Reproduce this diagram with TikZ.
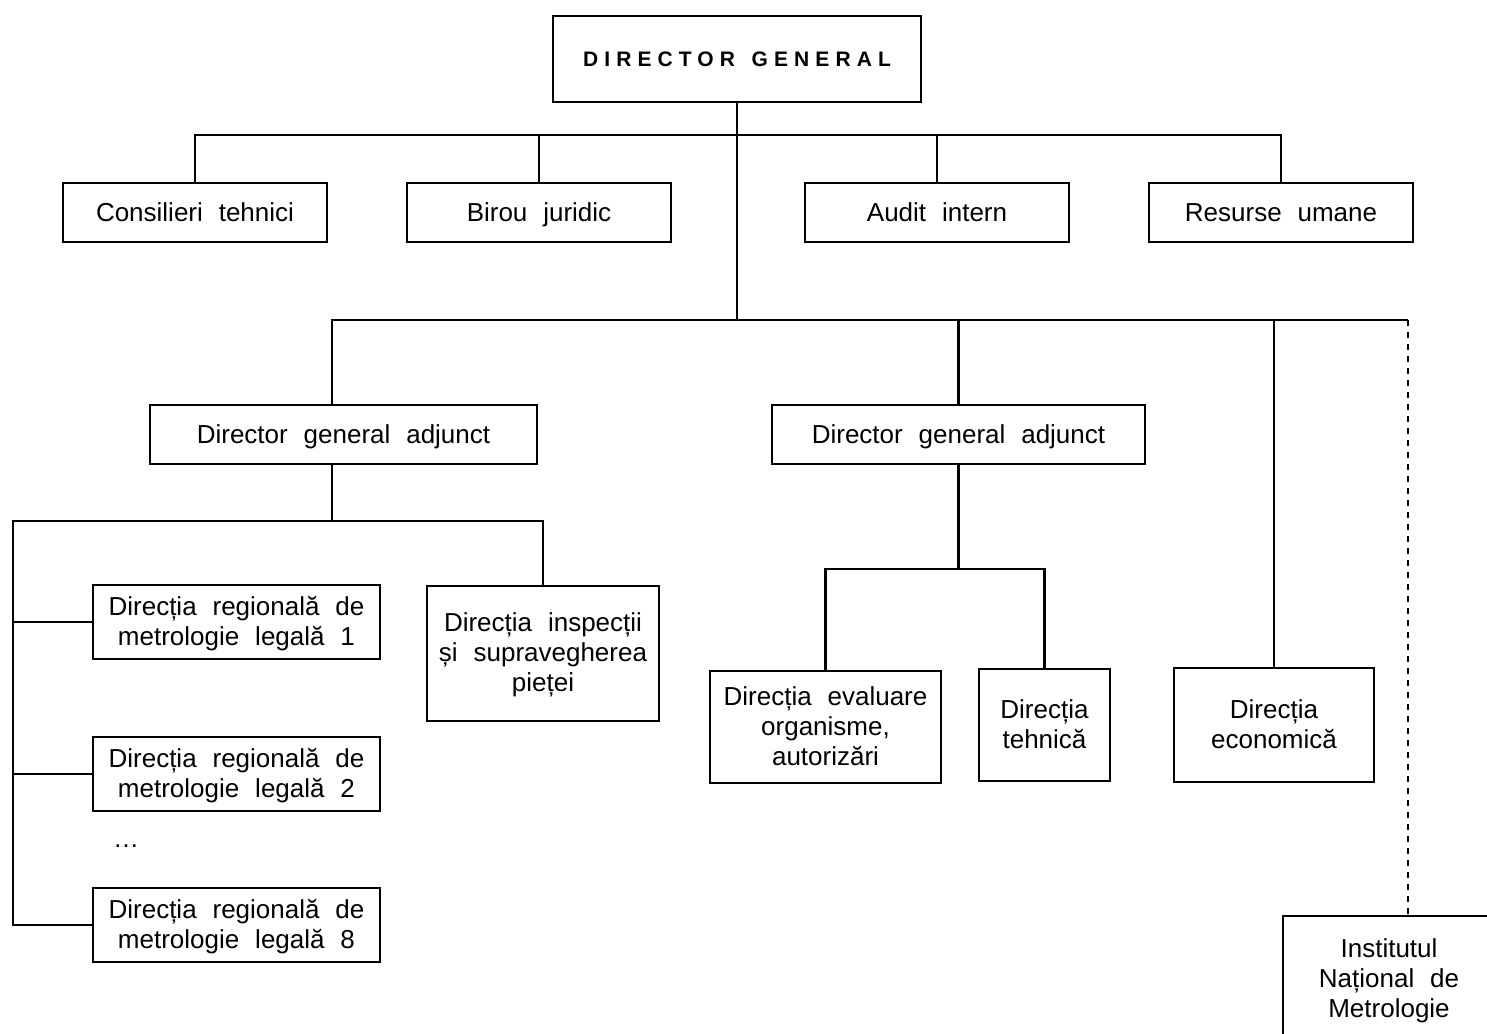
\documentclass[tikz,border=0pt]{standalone}
\usepackage{fontspec}
\setmainfont{Liberation Sans}[WordSpace=2.2]
\newfontfamily\dgfont{Liberation Sans}[LetterSpace=29, WordSpace=1.4]
\usetikzlibrary{calc}
\newcommand\boxstrut{\rule[-0.09em]{0pt}{0.9em}}

\begin{document}
\begin{tikzpicture}[x=0.5pt, y=-0.5pt, line width=1.4pt,
	box/.style={rectangle, draw, inner sep=0pt, align=center, font=\fontsize{13}{15}\selectfont,
		execute at begin node=\boxstrut, execute at end node=\boxstrut, text depth=1.17pt},
	wide/.style={box, minimum width=132pt, minimum height=29.5pt},
	regbox/.style={box, minimum width=143.5pt, minimum height=37pt}]
		\clip (0,0) rectangle (1487,1033);
		\path (737,59) node[box, minimum width=184pt, minimum height=43pt, text depth=0.95pt, font={\dgfont\bfseries\fontsize{10.5}{12}\selectfont}] (dg) {DIRECTOR GENERAL}
  		(195,212.5) node[wide] (cons) {Consilieri tehnici}
  		(539,212.5) node[wide] (birou) {Birou juridic}
  		(937,212.5) node[wide] (audit) {Audit intern}
  		(1281,212.5) node[wide] (resurse) {Resurse umane}
  		(343.5,434.5) node[box, minimum width=193.5pt, minimum height=29.5pt] (dga1) {Director general adjunct}
  		(958.5,434.5) node[box, minimum width=186.5pt, minimum height=29.5pt] (dga2) {Director general adjunct}
  		(236.5,622) node[regbox] (dr1) {Direcția regională de\\metrologie legală 1}
  		(236.5,774) node[regbox] (dr2) {Direcția regională de\\metrologie legală 2}
  		(236.5,925) node[regbox] (dr8) {Direcția regională de\\metrologie legală 8}
  		(126,846) node[font=\fontsize{13}{15}\selectfont] (dots) {…}
  		(543,653.5) node[box, minimum width=116pt, minimum height=67.5pt] (insp) {Direcția inspecții\\și supravegherea\\pieței}
  		(825.5,727) node[box, minimum width=115.5pt, minimum height=56pt] (eval) {Direcția evaluare\\organisme,\\autorizări}
  		(1044.5,725) node[box, minimum width=65.5pt, minimum height=56pt] (tehn) {Direcția\\tehnică}
  		(1274,725) node[box, minimum width=100pt, minimum height=57pt] (econ) {Direcția\\economică}
  		(1389,979) node[box, minimum width=106pt, minimum height=63pt] (inm) {Institutul\\Național de\\Metrologie};

		\coordinate (bus1) at (737,135);
		\coordinate (bus2) at (737,320);
		\coordinate (bus3) at (332,521);
		\coordinate (lbus) at (13,521);
		\coordinate (bus4) at (958.5,569);

		\draw (dg.south) -- (bus2);
		\draw (cons.north) |- (bus1) -| (resurse.north);
		\draw (birou.north) -- (birou.north |- bus1);
		\draw (audit.north) -- (audit.north |- bus1);
		\draw (332,0 |- dga1.north) |- (1408,320);
		\draw (dga2.north) -- (dga2.north |- bus2);
		\draw (econ.north) -- (econ.north |- bus2);
		\draw[dashed] (1408,320) -- (1408,0 |- inm.north);
		\draw (332,0 |- dga1.south) -- (bus3);
		\draw (dr8.west) -| (lbus) -| (insp.north);
		\draw (dr1.west) -- (dr1.west -| lbus);
		\draw (dr2.west) -- (dr2.west -| lbus);
		\draw (dga2.south) -- (bus4);
		\draw (eval.north) |- (bus4) -| (tehn.north);
	\end{tikzpicture}
\end{document}
